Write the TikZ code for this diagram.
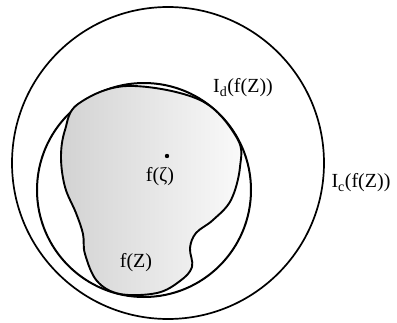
\documentclass[tikz,border=0pt]{standalone}
\usepackage{fontspec}
\setmainfont{Liberation Serif}
\usetikzlibrary{positioning}

\begin{document}
\begin{tikzpicture}[
  x=1pt, y=-1pt,
  font=\fontsize{20}{22}\selectfont,
  ring/.style  = {draw, line width=1.7pt},
  blob/.style  = {draw, line width=1.9pt, left color=gray!35, right color=gray!4},
  lab/.style   = {inner sep=0pt}]
\useasboundingbox (0,0) rectangle (397,322);

% ---- the two discs -------------------------------------------------------
\draw[ring] (168,163) circle[radius=156];
\draw[ring, line width=2pt] (144,190) circle[radius=107];

% ---- the set f(Z) ----------------------------------------------------------
\draw[blob] plot[smooth cycle, tension=0.6] coordinates {
  (78,104) (127,86) (200,100) (237,138) (240,167) (231,200) (213,220)
  (196,233) (190,248) (192,267) (180,281) (157,293) (120,294) (97,281)
  (85,254) (83,234) (76,213) (65,187) (61,157) (65,130)};

% ---- point and labels --------------------------------------------------------
\fill (167,156) circle[radius=2.2pt] coordinate (zeta);
\node[lab] (fzeta) at (160,177) {f(ζ)};
\node[lab] (fZ)    at (136,263) {f(Z)};
\node[lab] (Id)    at (243,88)  {I\textsubscript{d}(f(Z))};
\node[lab] (Ic)    at (361,183) {I\textsubscript{c}(f(Z))};

\end{tikzpicture}
\end{document}
